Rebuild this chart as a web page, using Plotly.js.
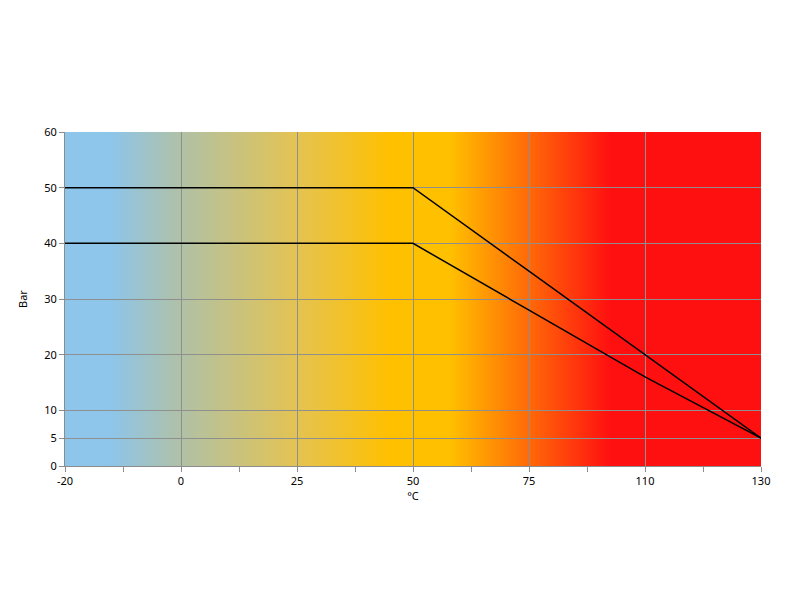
<!DOCTYPE html>
<html>
<head>
<meta charset="utf-8">
<script src="https://cdn.plot.ly/plotly-3.0.1.min.js"></script>
<style>html,body{margin:0;padding:0;background:#fff;}</style>
</head>
<body>
<div id="chart" style="width:800px;height:600px;"></div>
<script>
// Category labels on the x-axis (evenly spaced)
const categories = ['-20', '0', '25', '50', '75', '110', '130'];
// Upper and lower pressure curves (Bar)
const upperSeries = [50, 50, 50, 50, 35, 20, 5];
const lowerSeries = [40, 40, 40, 40, 28, 16, 5];
// Y tick values
const yTicks = [0, 5, 10, 20, 30, 40, 50, 60];
// Background gradient stops (category position, colour)
const gradPos = [0, 0.39, 1, 2, 2.8, 3.32, 4.7, 6];
const gradCol = ['#8DC5EB', '#8DC5EB', '#B0C1A6', '#E4C352', '#FFC000', '#FFC000', '#FF1010', '#FF1010'];

const idx = categories.map((c, i) => i);
const nCat = categories.length - 1;

const stops = gradPos.map((p, i) =>
  "<stop offset='" + (p / nCat) + "' stop-color='" + gradCol[i] + "'/>").join('');
const svg = "<svg xmlns='http://www.w3.org/2000/svg' width='600' height='100' viewBox='0 0 600 100' preserveAspectRatio='none'>" +
  "<defs><linearGradient id='g' x1='0' x2='1' y1='0' y2='0'>" + stops + "</linearGradient></defs>" +
  "<rect x='0' y='0' width='600' height='100' fill='url(#g)'/></svg>";
const bgSrc = 'data:image/svg+xml;charset=utf-8,' + encodeURIComponent(svg);

const traces = [
  {
    type: 'scatter', mode: 'lines', x: idx, y: upperSeries,
    line: {color: '#000', width: 1.5}, hoverinfo: 'skip', showlegend: false
  },
  {
    type: 'scatter', mode: 'lines', x: idx, y: lowerSeries,
    line: {color: '#000', width: 1.5}, hoverinfo: 'skip', showlegend: false
  }
];

const font = {family: 'Noto Sans, Verdana, sans-serif', size: 11, color: '#000'};

const layout = {
  width: 800, height: 600,
  margin: {l: 65, r: 39, t: 132, b: 134},
  paper_bgcolor: '#fff',
  plot_bgcolor: 'rgba(0,0,0,0)',
  showlegend: false,
  font: font,
  images: [{
    source: bgSrc, xref: 'x', yref: 'y', x: 0, y: 60, sizex: nCat, sizey: 60,
    sizing: 'stretch', xanchor: 'left', yanchor: 'top', layer: 'below'
  }],
  xaxis: {
    range: [0, nCat],
    tickmode: 'array',
    tickvals: idx,
    ticktext: categories,
    ticks: 'outside', ticklen: 5, tickcolor: '#8c8c8c',
    showgrid: true, gridcolor: '#8f8f8f', gridwidth: 1,
    showline: true, linecolor: '#8c8c8c', linewidth: 1,
    zeroline: false,
    minor: {tickmode: 'array', tickvals: [0.5, 1.5, 2.5, 3.5, 4.5, 5.5], ticks: 'outside', ticklen: 5, tickcolor: '#8c8c8c', showgrid: false},
    title: {text: '°C', font: font, standoff: 2},
    fixedrange: true
  },
  yaxis: {
    range: [0, 60],
    tickmode: 'array',
    tickvals: yTicks,
    ticks: 'outside', ticklen: 5, tickcolor: '#8c8c8c',
    showgrid: true, gridcolor: '#8f8f8f', gridwidth: 1,
    showline: true, linecolor: '#8c8c8c', linewidth: 1,
    zeroline: false,
    title: {text: 'Bar', font: font, standoff: 14},
    fixedrange: true
  }
};

Plotly.newPlot('chart', traces, layout, {displayModeBar: false, staticPlot: true});
</script>
</body>
</html>
